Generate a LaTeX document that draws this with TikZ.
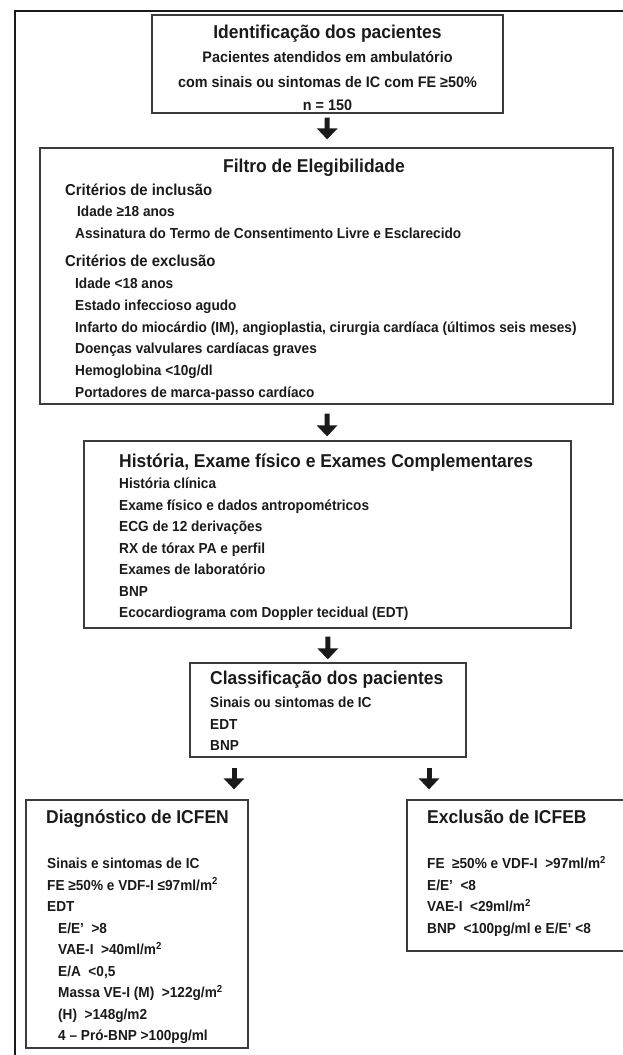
\documentclass[tikz,border=0pt]{standalone}
\usepackage{fontspec}
\setmainfont[FakeStretch=0.94]{Liberation Sans}
\usetikzlibrary{arrows.meta}
\newcommand{\msq}{m\textsuperscript{2}}
\definecolor{flowink}{HTML}{1A1A1A}
\definecolor{flowline}{HTML}{3C3C3C}

\begin{document}
\begin{tikzpicture}[
  x=1pt,
  y=-1pt,
  every node/.style={flowink},
  box/.style={draw=flowline, line width=1.2pt, inner sep=0pt},
  headline/.style={font=\fontsize{18.6}{21}\selectfont\bfseries, inner sep=0pt},
  subhead/.style={font=\fontsize{15.8}{18}\selectfont\bfseries, inner sep=0pt, anchor=base west},
  item/.style={font=\fontsize{14.5}{17}\selectfont\bfseries, inner sep=0pt, anchor=base west},
  idline/.style={font=\fontsize{15.3}{18}\selectfont\bfseries, inner sep=0pt, anchor=base},
  down/.style={flowink, line width=5pt, -{Triangle[width=20pt,length=11pt]}},
  frame/.style={flowink, line width=2.6pt}
]
  \useasboundingbox (0,0) rectangle (622,1055);

  % ---- outer frame, open to the right and bottom
  \draw[frame] (15,1062) -- (15,11) -- (630,11);

  % ---- boxes -------------------------------------------------------------
  \node[box, minimum width=351pt, minimum height=98pt]  (ident)  at (327.5,64)  {};
  \node[box, minimum width=573pt, minimum height=256pt] (filtro) at (326.5,276) {};
  \node[box, minimum width=487pt, minimum height=187pt] (hist)   at (327.5,534.5) {};
  \node[box, minimum width=276pt, minimum height=94pt]  (cls)    at (328,710)   {};
  \node[box, minimum width=222pt, minimum height=248pt] (diag)   at (137,924)   {};
  \node[box, minimum width=233pt, minimum height=151pt] (excl)   at (523.5,875.5) {};

  % ---- identificacao
  \node[headline, anchor=base] (identT) at (327.5,38.5) {Identificação dos pacientes};
  \node[idline] (identA) at (327.5,62.5)  {Pacientes atendidos em ambulatório};
  \node[idline] (identB) at (327.5,87.5)  {com sinais ou sintomas de IC com FE ≥50\%};
  \node[idline] (identC) at (327.5,110.5) {n = 150};

  % ---- filtro de elegibilidade
  \node[headline, anchor=base] (filtroT) at (314,172.5) {Filtro de Elegibilidade};
  \node[subhead] (incl) at (65,195.5) {Critérios de inclusão};
  \node[item] (inclA) at (77,216.5) {Idade ≥18 anos};
  \node[item] (inclB) at (75,238.5) {Assinatura do Termo de Consentimento Livre e Esclarecido};
  \node[subhead] (excl0) at (65,266.5) {Critérios de exclusão};
  \foreach \t [count=\i] in {Idade <18 anos, Estado infeccioso agudo,
      {Infarto do miocárdio (IM), angioplastia, cirurgia cardíaca (últimos seis meses)},
      Doenças valvulares cardíacas graves, Hemoglobina <10g/dl,
      Portadores de marca-passo cardíaco}
    \node[item] (exc\i) at (75,{288.5+21.8*(\i-1)}) {\t};

  % ---- historia e exames
  \node[headline, anchor=base west] (histT) at (119,467.5)
    {História, Exame físico e Exames Complementares};
  \foreach \t [count=\i] in {História clínica, Exame físico e dados antropométricos,
      ECG de 12 derivações, RX de tórax PA e perfil, Exames de laboratório, BNP,
      Ecocardiograma com Doppler tecidual (EDT)}
    \node[item] (hx\i) at (119,{488.5+21.5*(\i-1)}) {\t};

  % ---- classificacao
  \node[headline, anchor=base west] (clsT) at (210,684.5) {Classificação dos pacientes};
  \foreach \t [count=\i] in {Sinais ou sintomas de IC, EDT, BNP}
    \node[item] (cx\i) at (210,{707.5+21.5*(\i-1)}) {\t};

  % ---- diagnostico de ICFEN
  \node[headline, anchor=base west] (diagT) at (46,823.5) {Diagnóstico de ICFEN};
  \node[item] (dx1) at (47,868.5) {Sinais e sintomas de IC};
  \node[item] (dx2) at (47,890)   {FE ≥50\% e VDF-I ≤97ml/\msq};
  \node[item] (dx3) at (47,911.5) {EDT};
  \foreach \t [count=\i] in {E/E’~~>8, VAE-I~~>40ml/\msq, {E/A~~<0,5},
      Massa VE-I (M)~~>122g/\msq, (H)~~>148g/m2, 4 – Pró-BNP >100pg/ml}
    \node[item] (dy\i) at (58,{933+21.5*(\i-1)}) {\t};

  % ---- exclusao de ICFEB
  \node[headline, anchor=base west] (exclT) at (427,823.5) {Exclusão de ICFEB};
  \foreach \t [count=\i] in {FE~~≥50\% e VDF-I~~>97ml/\msq, E/E’~~<8,
      VAE-I~~<29ml/\msq, BNP~~<100pg/ml e E/E’ <8}
    \node[item] (ex\i) at (427,{868.5+21.5*(\i-1)}) {\t};

  % ---- arrows between the steps
  \coordinate (lft) at (234,0);
  \coordinate (rgt) at (429,0);
  \draw[down, shorten <=4pt, shorten >=8pt] (ident) -- (filtro);
  \draw[down, shorten <=9pt, shorten >=4pt] (filtro) -- (hist);
  \draw[down, shorten <=8pt, shorten >=3pt] (hist) -- (cls);
  \draw[down, shorten <=10pt, shorten >=10pt] (cls.south -| lft) -- (diag.north -| lft);
  \draw[down, shorten <=10pt, shorten >=10pt] (cls.south -| rgt) -- (excl.north -| rgt);
\end{tikzpicture}
\end{document}
